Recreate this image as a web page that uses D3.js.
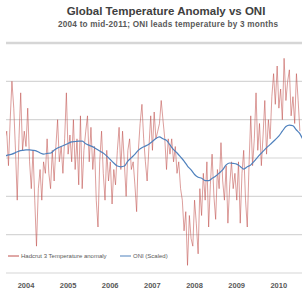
<!DOCTYPE html>
<html>
<head>
<meta charset="utf-8">
<script src="https://cdnjs.cloudflare.com/ajax/libs/d3/7.8.5/d3.min.js"></script>
<style>
  html, body { margin: 0; padding: 0; background: #fff; }
  svg { display: block; font-family: "Liberation Sans", Arial, sans-serif; }
</style>
</head>
<body>
<svg width="302" height="293"></svg>
<script>
// Hadcrut 3 anomaly, twice a month from Jan 2004
const tempAnomaly = [
  0.35,0.37,0.28,0.40,0.50,0.43,0.32,0.19,0.35,0.47,0.32,0.37,0.33,0.43,0.29,0.22,0.32,0.19,0.07,0.22,0.27,0.19,0.29,0.26,
  0.35,0.26,0.22,0.32,0.24,0.33,0.40,0.29,0.33,0.26,0.35,0.47,0.31,0.36,0.29,0.40,0.27,0.35,0.23,0.41,0.22,0.32,0.37,0.41,
  0.29,0.38,0.27,0.33,0.19,0.12,0.29,0.37,0.26,0.19,0.32,0.24,0.29,0.18,0.27,0.23,0.32,0.38,0.27,0.37,0.29,0.20,0.32,0.35,
  0.27,0.29,0.23,0.16,0.32,0.39,0.44,0.35,0.29,0.24,0.33,0.41,0.32,0.42,0.35,0.37,0.39,0.45,0.40,0.35,0.27,0.35,0.31,0.35,
  0.29,0.33,0.26,0.29,0.22,0.19,0.11,0.16,0.02,0.15,0.09,0.07,0.19,0.13,0.05,0.22,0.15,0.26,0.19,0.29,0.12,0.23,0.31,0.20,
  0.14,0.27,0.22,0.34,0.24,0.19,0.28,0.13,0.23,0.29,0.22,0.26,0.19,0.29,0.13,0.26,0.32,0.19,0.12,0.28,0.41,0.28,0.35,0.47,
  0.32,0.39,0.28,0.36,0.45,0.31,0.40,0.35,0.46,0.52,0.44,0.54,0.43,0.48,0.40,0.56,0.45,0.50,0.53,0.41,0.46,0.39,0.52,0.45,
  0.37
];

// ONI (scaled), monthly from Jan 2004
const oniScaled = [
  0.305,0.308,0.310,0.314,0.318,0.320,0.321,0.321,0.320,0.318,0.313,0.310,
  0.312,0.313,0.320,0.326,0.330,0.334,0.338,0.342,0.343,0.344,0.344,0.337,
  0.333,0.329,0.324,0.318,0.313,0.305,0.296,0.287,0.279,0.277,0.279,0.292,
  0.301,0.310,0.320,0.327,0.331,0.336,0.343,0.351,0.355,0.350,0.346,0.334,
  0.322,0.313,0.303,0.292,0.279,0.269,0.257,0.250,0.247,0.241,0.241,0.247,
  0.253,0.261,0.269,0.282,0.287,0.286,0.284,0.278,0.271,0.277,0.282,0.292,
  0.303,0.313,0.322,0.331,0.339,0.348,0.357,0.370,0.382,0.386,0.384,0.373,
  0.363,0.344
];

const years = [2004, 2005, 2006, 2007, 2008, 2009, 2010];
const gridValues = [0, 0.1, 0.2, 0.3, 0.4, 0.5, 0.6];

const title = "Global Temperature Anomaly vs ONI";
const subtitle = "2004 to mid-2011; ONI leads temperature by 3 months";
const legendNames = ["Hadcrut 3 Temperature anomaly", "ONI (Scaled)"];

const red = "#c0504d";
const blue = "#4f81bd";

const svg = d3.select("svg");

//   Plot box
const plotLeft = 6, plotRight = 302, plotTop = 43, plotBottom = 273;

const xScale = d3.scaleTime()
  .domain([new Date(2004, 0, 1), new Date(2011, 0, 1)])
  .range([5, 300]);

const yScale = d3.scaleLinear()
  .domain([0, 0.6])
  .range([plotBottom, plotTop]);

//   Titles
svg.append("text")
  .attr("x", 166).attr("y", 15)
  .attr("text-anchor", "middle")
  .attr("font-size", 11.5)
  .attr("font-weight", "bold")
  .attr("fill", "#404040")
  .text(title);

svg.append("text")
  .attr("x", 168).attr("y", 27)
  .attr("text-anchor", "middle")
  .attr("font-size", 8.2)
  .attr("font-weight", "bold")
  .attr("fill", "#595959")
  .attr("textLength", 220)
  .text(subtitle);

//   Gridlines
svg.append("g")
  .selectAll("line")
  .data(gridValues)
  .enter()
  .append("line")
  .attr("x1", plotLeft)
  .attr("x2", plotRight)
  .attr("y1", d => yScale(d))
  .attr("y2", d => yScale(d))
  .attr("stroke", "#d6d6d6")
  .attr("stroke-width", d => d === 0.6 ? 2.5 : 1.2);

svg.append("clipPath")
  .attr("id", "plot")
  .append("rect")
  .attr("x", plotLeft).attr("y", plotTop - 2)
  .attr("width", plotRight - plotLeft).attr("height", plotBottom - plotTop + 4);

//   Lines
const tempLine = d3.line()
  .x((d, i) => xScale(new Date(2004, 0, 1 + i * 15.22)))
  .y(d => yScale(d));

const oniLine = d3.line()
  .x((d, i) => xScale(new Date(2004, i, 1)))
  .y(d => yScale(d))
  .curve(d3.curveMonotoneX);

svg.append("path")
  .datum(tempAnomaly)
  .attr("clip-path", "url(#plot)")
  .attr("d", tempLine)
  .attr("fill", "none")
  .attr("stroke", red)
  .attr("stroke-opacity", 0.7)
  .attr("stroke-width", 0.8);

svg.append("path")
  .datum(oniScaled)
  .attr("clip-path", "url(#plot)")
  .attr("d", oniLine)
  .attr("fill", "none")
  .attr("stroke", blue)
  .attr("stroke-width", 1.2);

//   Legend
const legend = svg.append("g")
  .attr("transform", "translate(0,256)");

const legendItems = legend.selectAll("g")
  .data(legendNames)
  .enter()
  .append("g")
  .attr("transform", (d, i) => `translate(${i === 0 ? 8 : 120},0)`);

legendItems.append("line")
  .attr("x1", 0).attr("x2", 11)
  .attr("stroke", (d, i) => i === 0 ? red : blue)
  .attr("stroke-width", 1);

legendItems.append("text")
  .attr("x", 13).attr("y", 2)
  .attr("font-size", 6)
  .attr("fill", "#595959")
  .text(d => d);

//   Year labels
svg.append("g")
  .selectAll("text")
  .data(years)
  .enter()
  .append("text")
  .attr("x", d => xScale(new Date(d, 6, 1)))
  .attr("y", 288)
  .attr("text-anchor", "middle")
  .attr("font-size", 7.5)
  .attr("font-weight", "bold")
  .attr("fill", "#595959")
  .text(d => d);
</script>
</body>
</html>
